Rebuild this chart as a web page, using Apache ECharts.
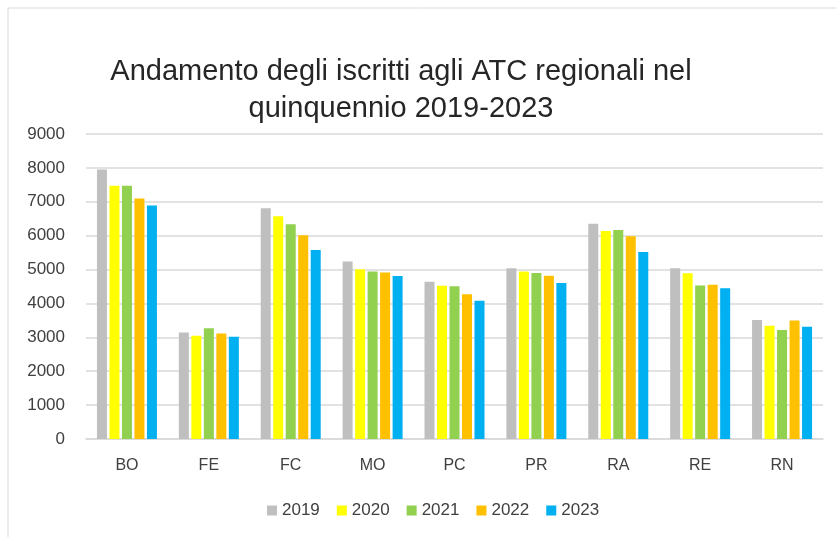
<!DOCTYPE html>
<html>
<head>
<meta charset="utf-8">
<script src="https://cdn.jsdelivr.net/npm/echarts@6/dist/echarts.min.js"></script>
<style>
  html, body { margin: 0; padding: 0; background: #fff; }
  #chart { width: 836px; height: 537px; }
</style>
</head>
<body>
<div id="chart"></div>
<script>
// dati
var categorie = ["BO", "FE", "FC", "MO", "PC", "PR", "RA", "RE", "RN"];
var anni = ["2019", "2020", "2021", "2022", "2023"];
var val2019 = [7950, 3140, 6810, 5240, 4640, 5040, 6350, 5040, 3510];
var val2020 = [7470, 3050, 6570, 5010, 4520, 4940, 6140, 4890, 3340];
var val2021 = [7470, 3270, 6340, 4940, 4510, 4900, 6170, 4530, 3220];
var val2022 = [7100, 3110, 6010, 4910, 4270, 4820, 5980, 4550, 3500];
var val2023 = [6890, 3020, 5580, 4810, 4080, 4600, 5520, 4450, 3310];
var colori = ["#bfbfbf", "#ffff00", "#92d050", "#ffc000", "#00b0f0"];

var valori = [val2019, val2020, val2021, val2022, val2023];

var myChart = echarts.init(document.getElementById("chart"));

var serie = anni.map(function (anno, i) {
    return {
        name: anno,
        type: "bar",
        data: valori[i],
        barWidth: 10,
        barGap: "25%",
        itemStyle: { color: colori[i] }
    };
});

var option = {
    animation: false,
    backgroundColor: "#fff",
    title: {
        text: "Andamento degli iscritti agli ATC regionali nel\nquinquennio 2019-2023",
        left: 396,
        top: 48,
        textAlign: "center",
        textStyle: {
            fontFamily: "Liberation Sans, Arial, sans-serif",
            fontWeight: "normal",
            fontSize: 29,
            lineHeight: 37,
            color: "#262626"
        }
    },
    graphic: [{
        type: "rect",
        shape: { x: 8, y: 8, width: 840, height: 540 },
        style: { fill: "none", stroke: "#d9d9d9", lineWidth: 1 },
        z: -1
    }],
    legend: {
        data: anni,
        bottom: 13,
        left: 262,
        itemWidth: 10,
        itemHeight: 10,
        itemGap: 17,
        icon: "rect",
        textStyle: {
            fontFamily: "Liberation Sans, Arial, sans-serif",
            fontSize: 17,
            color: "#404040"
        }
    },
    grid: {
        left: 86,
        right: 13,
        top: 134,
        bottom: 98
    },
    xAxis: {
        type: "category",
        data: categorie,
        axisTick: { show: false },
        axisLine: { lineStyle: { color: "#d9d9d9", width: 1.5 } },
        axisLabel: {
            margin: 19,
            fontFamily: "Liberation Sans, Arial, sans-serif",
            fontSize: 16,
            color: "#404040"
        }
    },
    yAxis: {
        type: "value",
        min: 0,
        max: 9000,
        interval: 1000,
        axisLine: { show: false },
        axisTick: { show: false },
        splitLine: { lineStyle: { color: "#d9d9d9", width: 1.5 } },
        axisLabel: {
            margin: 21,
            formatter: function (v) { return String(v); },
            fontFamily: "Liberation Sans, Arial, sans-serif",
            fontSize: 17,
            color: "#404040"
        }
    },
    series: serie
};

myChart.setOption(option);
</script>
</body>
</html>
